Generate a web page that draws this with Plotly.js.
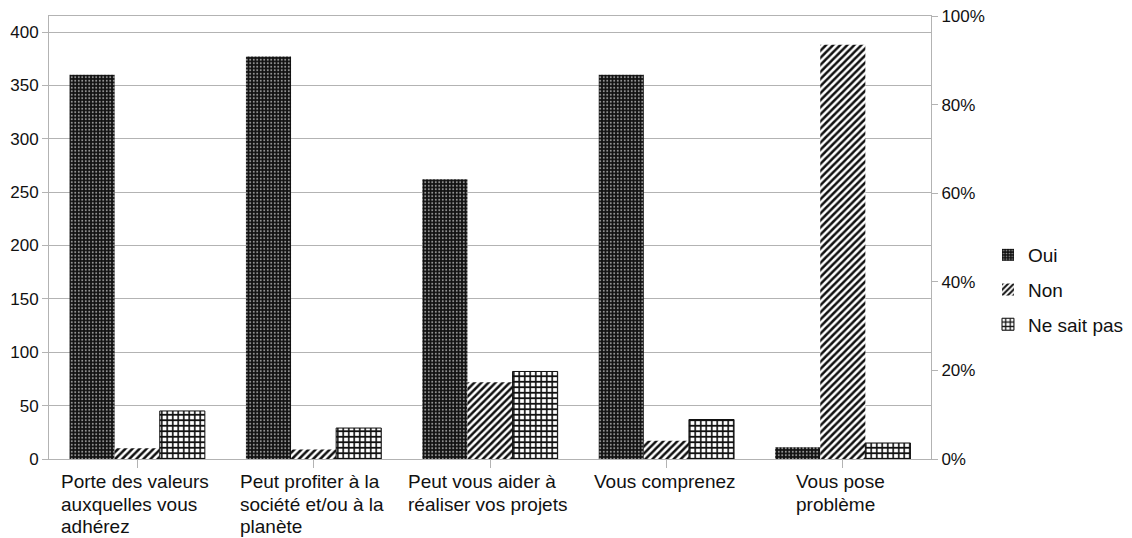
<!DOCTYPE html>
<html>
<head>
<meta charset="utf-8">
<script src="https://cdn.plot.ly/plotly-3.0.1.min.js"></script>
<style>html,body{margin:0;padding:0;background:#fff;}#chart{width:1132px;height:538px;}</style>
</head>
<body>
<div id="chart"></div>
<script>
const categories = [
  "Porte des valeurs<br>auxquelles vous<br>adhérez",
  "Peut profiter à la<br>société et/ou à la<br>planète",
  "Peut vous aider à<br>réaliser vos projets",
  "Vous comprenez",
  "Vous pose<br>problème"
];
const seriesNames = ["Oui", "Non", "Ne sait pas"];
const oui = [360, 377, 262, 360, 11];
const non = [10, 9, 72, 17, 388];
const nsp = [45, 29, 82, 37, 15];
const leftTicks = [0, 50, 100, 150, 200, 250, 300, 350, 400];
const rightTicks = [0, 0.2, 0.4, 0.6, 0.8, 1];

const font = "Liberation Sans, Arial, sans-serif";
const labelSize = 19;
const idx = categories.map((c, i) => i);

const traces = [
  {
    type: "bar", name: seriesNames[0], x: idx, y: oui, legendgroup: "a",
    marker: {color: "#111111", line: {width: 0},
      pattern: {shape: ".", fgcolor: "#9a9a9a", bgcolor: "#111111", size: 3.5, solidity: 0.25}}
  },
  {
    type: "bar", name: seriesNames[1], x: idx, y: non, legendgroup: "b",
    marker: {color: "#ffffff", line: {width: 0},
      pattern: {shape: "/", fgcolor: "#111111", bgcolor: "#ffffff", size: 5, solidity: 0.5}}
  },
  {
    type: "bar", name: seriesNames[2], x: idx, y: nsp, legendgroup: "c",
    marker: {color: "#ffffff", line: {width: 1, color: "#111111"},
      pattern: {shape: "+", fgcolor: "#111111", bgcolor: "#ffffff", size: 5.5, solidity: 0.5}}
  },
  {
    // helper so the percentage axis is drawn
    type: "scatter", mode: "none", x: [idx[0]], y: [rightTicks[0]], yaxis: "y2",
    showlegend: false, hoverinfo: "skip"
  }
];

// category labels: left-aligned lines, block centred under each category
const ctx = document.createElement("canvas").getContext("2d");
ctx.font = labelSize + "px 'Liberation Sans', Arial, sans-serif";
const annotations = [];
categories.forEach((c, i) => {
  const lines = c.split("<br>");
  const maxW = Math.max(...lines.map(l => ctx.measureText(l).width));
  lines.forEach((line, j) => {
    annotations.push({
      text: line, x: i, xref: "x", xanchor: "left", xshift: -maxW / 2 - 3,
      y: 0, yref: "paper", yanchor: "top", yshift: -11 - 22.5 * j,
      align: "left", showarrow: false, borderpad: 0,
      font: {family: font, size: labelSize, color: "#111111"}
    });
  });
});

const layout = {
  width: 1132, height: 538,
  margin: {l: 49, r: 201, t: 16, b: 79, pad: 0, autoexpand: false},
  paper_bgcolor: "#ffffff", plot_bgcolor: "#ffffff",
  barmode: "group", bargap: 0.233, bargroupgap: 0,
  font: {family: font, size: 17, color: "#111111"},
  showlegend: true,
  legend: {x: 1.0646, xanchor: "left", y: 0.3815, yanchor: "middle",
    font: {family: font, size: 19, color: "#111111"},
    traceorder: "grouped", tracegroupgap: 7, bgcolor: "rgba(0,0,0,0)"},
  xaxis: {
    range: [-0.5, 4.5], tickmode: "array", tickvals: idx, ticktext: categories.map(() => ""),
    tickson: "boundaries", ticks: "outside", ticklen: 8, tickcolor: "#b3b3b3",
    showline: true, linecolor: "#b3b3b3", linewidth: 1, mirror: true,
    showgrid: false, zeroline: false, fixedrange: true
  },
  yaxis: {
    range: [0, 415], tickmode: "array", tickvals: leftTicks,
    ticks: "outside", ticklen: 6, tickcolor: "#b3b3b3",
    showline: true, linecolor: "#b3b3b3", linewidth: 1,
    showgrid: true, gridcolor: "#b3b3b3", gridwidth: 1, zeroline: false,
    tickfont: {family: font, size: 17, color: "#111111"}
  },
  yaxis2: {
    overlaying: "y", side: "right", range: [0, 1], tickmode: "array", tickvals: rightTicks,
    tickformat: ".0%", ticks: "outside", ticklen: 6, tickcolor: "#b3b3b3",
    showline: true, linecolor: "#b3b3b3", linewidth: 1, showgrid: false, zeroline: false,
    tickfont: {family: font, size: 17, color: "#111111"}
  },
  annotations: annotations
};

Plotly.newPlot("chart", traces, layout, {displayModeBar: false, staticPlot: true});
</script>
</body>
</html>
